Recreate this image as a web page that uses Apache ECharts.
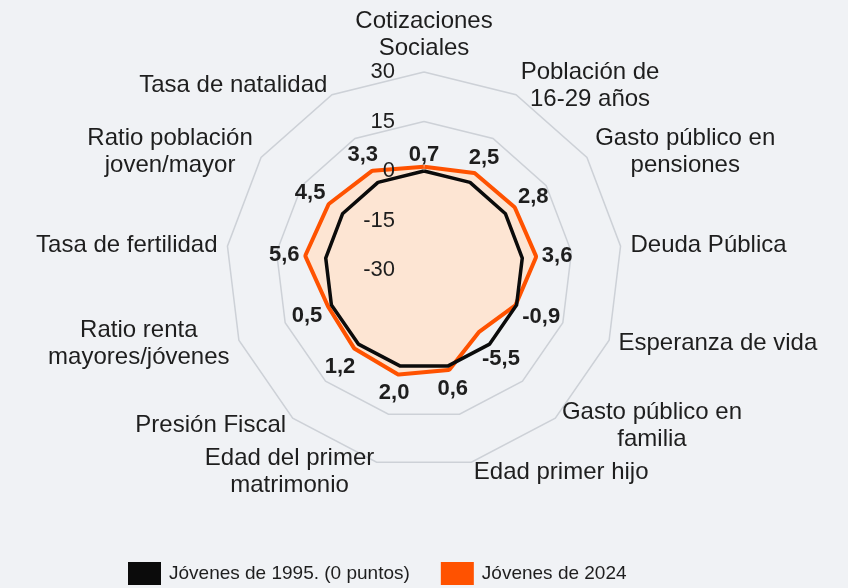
<!DOCTYPE html>
<html>
<head>
<meta charset="utf-8">
<script src="https://cdn.jsdelivr.net/npm/echarts@6/dist/echarts.min.js"></script>
<style>
html, body { margin: 0; background: #f0f2f5; }
#chart { width: 848px; height: 588px; }
</style>
</head>
<body>
<div id="chart"></div>
<script>
// indicators listed clockwise from the top, as in the picture
const indicators = [
	'Cotizaciones\nSociales', 'Población de\n16-29 años', 'Gasto público en\npensiones',
	'Deuda Pública', 'Esperanza de vida', 'Gasto público en\nfamilia', 'Edad primer hijo',
	'Edad del primer\nmatrimonio', 'Presión Fiscal', 'Ratio renta\nmayores/jóvenes',
	'Tasa de fertilidad', 'Ratio población\njoven/mayor', 'Tasa de natalidad'
]
const jovenes1995 = [ 0, 0, 0, 0, 0, 0, 0, 0, 0, 0, 0, 0, 0 ]
const jovenes2024 = [ 0.7, 2.5, 2.8, 3.6, -0.9, -5.5, 0.6, 2.0, 1.2, 0.5, 5.6, 4.5, 3.3 ]
const axisTicks = [ -30, -15, 0, 15, 30 ]
const seriesNames = [ 'Jóvenes de 1995. (0 puntos)', 'Jóvenes de 2024' ]

const centerY = 270
const radius = 198
const textColor = '#1e1e1e'
const orange = '#ff5200'
const font = 'Liberation Sans, Arial, sans-serif'

// echarts places radar axes counter-clockwise, so flip the order after the first one
const ccw = arr => [ arr[0], ...arr.slice( 1 ).reverse() ]

const chart = echarts.init( document.getElementById( 'chart' ), null, { renderer: 'canvas' } )

// radius of the 0 ring, where the 1995 outline sits
const zeroR = radius * ( 0 - axisTicks[0] ) / ( axisTicks[axisTicks.length - 1] - axisTicks[0] )

// put each value label just outside its vertex, along the spoke
const radialLabel = p => {
	const cx = chart.getWidth() / 2
	const vx = p.rect.x + p.rect.width / 2
	const vy = p.rect.y + p.rect.height / 2
	let dx = vx - cx, dy = vy - centerY
	const len = Math.hypot( dx, dy ) || 1
	dx /= len; dy /= len
	const r = len + 0.5 * Math.max( 0, zeroR - len )
	const d = 7 + Math.abs( dx ) * p.labelRect.width / 2 + Math.abs( dy ) * p.labelRect.height * 0.4
	return { x: cx + dx * ( r + d ), y: centerY + dy * ( r + d ) + 2, align: 'center', verticalAlign: 'middle' }
}

const option = {
	backgroundColor: '#f0f2f5',
	animation: false,
	textStyle: { fontFamily: font },
	legend: {
		data: seriesNames,
		left: 123,
		top: 557,
		icon: 'rect',
		itemWidth: 33,
		itemHeight: 23,
		itemGap: 31,
		textStyle: { fontSize: 19, color: textColor, fontFamily: font, padding: [ 0, 0, 0, 3 ] }
	},
	radar: {
		z: 10,
		center: [ '50%', centerY ],
		radius,
		startAngle: 90,
		shape: 'polygon',
		splitNumber: axisTicks.length - 1,
		indicator: ccw( indicators ).map( ( name, i ) => ( {
			name,
			min: axisTicks[0],
			max: axisTicks[axisTicks.length - 1],
			axisLabel: { show: i === 0 }
		} ) ),
		nameGap: 10,
		axisName: {
			color: textColor,
			fontSize: 24,
			fontFamily: font,
			formatter: n => n.split( '\n' ).map( s => '{c|' + s + '}' ).join( '\n' ),
			rich: { c: { align: 'center', fontSize: 24, color: textColor, fontFamily: font, lineHeight: 27 } }
		},
		axisLine: { show: false },
		axisTick: { show: false },
		axisLabel: { show: false, fontSize: 22, color: textColor, margin: 29, fontFamily: font },
		splitArea: { show: false },
		splitLine: { lineStyle: { color: [ 'transparent', 'transparent', 'transparent', '#cdd1d7', '#cdd1d7' ], width: 1.5 } }
	},
	series: [
		{
			type: 'radar',
			z: 2,
			data: [
				{
					name: seriesNames[1],
					value: ccw( jovenes2024 ),
					symbol: 'none',
					itemStyle: { color: orange },
					// the area covers the inner half of the stroke
					lineStyle: { color: orange, width: 8 },
					areaStyle: { color: '#fde5d3', opacity: 1 }
				},
				{
					name: seriesNames[0],
					value: ccw( jovenes1995 ),
					symbol: 'none',
					itemStyle: { color: '#0b0b0b' },
					lineStyle: { color: '#0b0b0b', width: 3.5 }
				}
			]
		},
		{
			// value labels of 2024, kept above outlines and rings
			type: 'radar',
			z: 12,
			silent: true,
			labelLayout: radialLabel,
			data: [ {
				name: 'etiquetas',
				value: ccw( jovenes2024 ),
				symbol: 'circle',
				symbolSize: 2,
				itemStyle: { color: 'rgba(0,0,0,0)' },
				lineStyle: { width: 0, opacity: 0 },
				label: {
					show: true,
					fontSize: 22,
					fontWeight: 'bold',
					color: textColor,
					fontFamily: font,
					formatter: p => p.value.toFixed( 1 ).replace( '.', ',' )
				}
			} ]
		}
	]
}

chart.setOption( option )
</script>
</body>
</html>
